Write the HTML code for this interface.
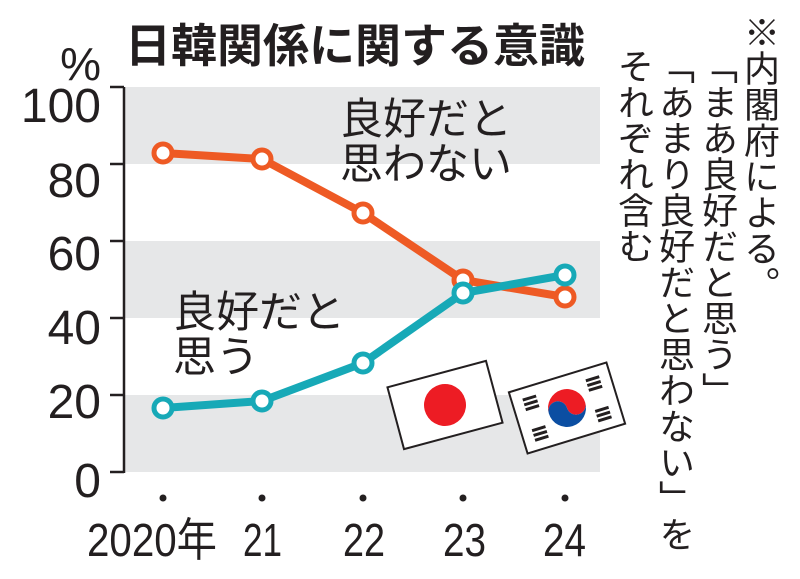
<!DOCTYPE html>
<html><head><meta charset="utf-8"><style>
html,body{margin:0;padding:0;background:#fff;}
body{width:800px;height:574px;overflow:hidden;}
svg text{font-family:"Liberation Sans","Noto Sans CJK JP",sans-serif;fill:#231f20;}
</style></head><body>
<svg width="800" height="574" viewBox="0 0 800 574" xmlns="http://www.w3.org/2000/svg">
<rect x="124" y="87" width="476" height="77" fill="#e6e7e8"/>
<rect x="124" y="241" width="476" height="77" fill="#e6e7e8"/>
<rect x="124" y="395" width="476" height="77" fill="#e6e7e8"/>
<line x1="124" y1="87" x2="124" y2="473" stroke="#231f20" stroke-width="2.5"/>
<g stroke="#231f20" stroke-width="2.5">
<line x1="110" y1="87" x2="124" y2="87"/><line x1="110" y1="164" x2="124" y2="164"/>
<line x1="110" y1="241" x2="124" y2="241"/><line x1="110" y1="318" x2="124" y2="318"/>
<line x1="110" y1="395" x2="124" y2="395"/><line x1="110" y1="472" x2="124" y2="472"/>
</g>
<g font-size="48" text-anchor="end">
<text x="101" y="122">100</text><text x="101" y="197">80</text><text x="101" y="270">60</text>
<text x="101" y="344">40</text><text x="101" y="418">20</text><text x="101" y="497">0</text>
</g>
<text x="101" y="80" font-size="46" text-anchor="end">%</text>
<text x="125" y="62" font-size="46" font-weight="bold" textLength="460">日韓関係に関する意識</text>
<polyline points="163,153 262,159 363,213 463,280 565,297" fill="none" stroke="#ee5a24" stroke-width="8" stroke-linejoin="round"/>
<g fill="#fff" stroke="#ee5a24" stroke-width="5">
<circle cx="163" cy="153" r="9"/><circle cx="262" cy="159" r="9"/><circle cx="363" cy="213" r="9"/><circle cx="463" cy="280" r="9"/><circle cx="565" cy="297" r="9"/>
</g>
<polyline points="163,408 262,401 363,363 463,293 565,275" fill="none" stroke="#17a9b7" stroke-width="8" stroke-linejoin="round"/>
<g fill="#fff" stroke="#17a9b7" stroke-width="5">
<circle cx="163" cy="408" r="9"/><circle cx="262" cy="401" r="9"/><circle cx="363" cy="363" r="9"/><circle cx="463" cy="293" r="9"/><circle cx="565" cy="275" r="9"/>
</g>
<g font-size="43">
<text x="340" y="134">良好だと</text><text x="340" y="179">思わない</text>
<text x="173" y="327">良好だと</text><text x="173" y="372">思う</text>
</g>
<g transform="rotate(-15 445 405)">
<rect x="394" y="373" width="102" height="64" fill="#fff" stroke="#231f20" stroke-width="2"/>
<circle cx="445" cy="405" r="21" fill="#ed1c24"/>
</g>
<g transform="rotate(-17 567 408)">
<rect x="516" y="376" width="102" height="64" fill="#fff" stroke="#231f20" stroke-width="2"/>
<path d="M548,408 a19,19 0 0 1 38,0 a9.5,9.5 0 0 1 -19,0 a9.5,9.5 0 0 0 -19,0z" fill="#ed1c24"/>
<path d="M548,408 a19,19 0 0 0 38,0 a9.5,9.5 0 0 1 -19,0 a9.5,9.5 0 0 0 -19,0z" fill="#0b4ea2"/>
<g fill="#231f20">
<rect x="527" y="386" width="14" height="3"/><rect x="527" y="391" width="14" height="3"/><rect x="527" y="396" width="14" height="3"/>
<rect x="593" y="386" width="14" height="3"/><rect x="593" y="391" width="14" height="3"/><rect x="593" y="396" width="14" height="3"/>
<rect x="527" y="418" width="14" height="3"/><rect x="527" y="423" width="14" height="3"/><rect x="527" y="428" width="14" height="3"/>
<rect x="593" y="418" width="14" height="3"/><rect x="593" y="423" width="14" height="3"/><rect x="593" y="428" width="14" height="3"/>
</g>
</g>
<g fill="#231f20">
<circle cx="163" cy="498" r="3.5"/><circle cx="262" cy="498" r="3.5"/><circle cx="363" cy="498" r="3.5"/><circle cx="463" cy="498" r="3.5"/><circle cx="565" cy="498" r="3.5"/>
</g>
<g font-size="46">
<text x="87" y="556" textLength="130" lengthAdjust="spacingAndGlyphs">2020年</text>
<text x="243" y="556" textLength="39" lengthAdjust="spacingAndGlyphs">21</text>
<text x="343" y="556" textLength="42" lengthAdjust="spacingAndGlyphs">22</text>
<text x="443" y="556" textLength="43" lengthAdjust="spacingAndGlyphs">23</text>
<text x="543" y="556" textLength="43" lengthAdjust="spacingAndGlyphs">24</text>
</g>
<g font-size="36">
<text x="762" y="14" style="writing-mode:vertical-rl;font-family:'Noto Sans CJK JP',sans-serif">※内閣府による。</text>
<text x="720" y="48" style="writing-mode:vertical-rl;font-family:'Noto Sans CJK JP',sans-serif">「まあ良好だと思う」</text>
<text x="677" y="48" style="writing-mode:vertical-rl;font-family:'Noto Sans CJK JP',sans-serif">「あまり良好だと思わない」を</text>
<text x="636" y="48" style="writing-mode:vertical-rl;font-family:'Noto Sans CJK JP',sans-serif">それぞれ含む</text>
</g>
</svg>
</body></html>
